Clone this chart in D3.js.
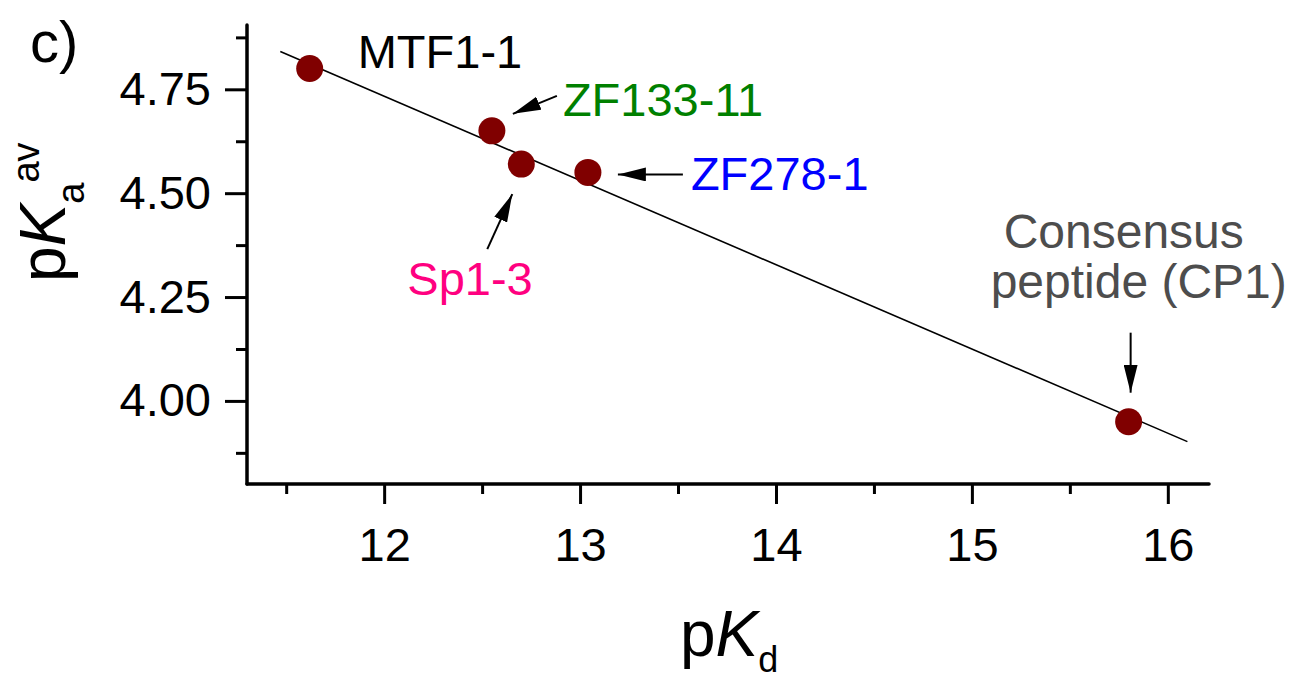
<!DOCTYPE html>
<html>
<head>
<meta charset="utf-8">
<script src="https://cdn.jsdelivr.net/npm/d3@7"></script>
<style>
  body { margin: 0; background: #fff; }
  svg { display: block; }
  text { font-family: "Liberation Sans", Arial, Helvetica, sans-serif; }
</style>
</head>
<body>
<svg id="chart" width="1294" height="682"></svg>
<script>
// Peptides and their dissociation / average acidity constants
const names = ["MTF1-1", "ZF133-11", "Sp1-3", "ZF278-1", "Consensus peptide (CP1)"];
const pKd = [11.62, 12.55, 12.70, 13.04, 15.80];
const pKa = [4.80, 4.65, 4.57, 4.55, 3.95];

// Linear fit endpoints
const fitX = [11.47, 16.10];
const fitY = [4.841, 3.902];

// Axis ticks
const xTicks = [12, 13, 14, 15, 16];
const xMinor = [11.5, 12.5, 13.5, 14.5, 15.5];
const yTicks = [4.00, 4.25, 4.50, 4.75];
const yMinor = [3.875, 4.125, 4.375, 4.625, 4.875];

const svg = d3.select("#chart");
const x = d3.scaleLinear().domain([11.3, 16.2]).range([247, 1207]);
const y = d3.scaleLinear().domain([3.8, 4.9]).range([484, 27]);

const AXW = 3.5;
const LABEL_SIZE = 47;

// ---- axes ----
function styleAxis(g) {
  g.select(".domain").remove();
  g.selectAll("line").attr("stroke", "#000").attr("stroke-width", 3);
  g.selectAll("text").attr("fill", "#000").attr("font-size", 47);
}

const xAxis = svg.append("g").attr("transform", `translate(0,${y.range()[0]})`)
  .call(d3.axisBottom(x).tickValues(xTicks).tickFormat(d3.format("d")).tickSize(20).tickPadding(24));
styleAxis(xAxis);
xAxis.selectAll("text").attr("dy", "0.71em");

const xAxisMinor = svg.append("g").attr("transform", `translate(0,${y.range()[0]})`)
  .call(d3.axisBottom(x).tickValues(xMinor).tickFormat("").tickSize(10));
styleAxis(xAxisMinor);

const yAxis = svg.append("g").attr("transform", `translate(${x.range()[0]},0)`)
  .call(d3.axisLeft(y).tickValues(yTicks).tickFormat(d3.format(".2f")).tickSize(22).tickPadding(14));
styleAxis(yAxis);

const yAxisMinor = svg.append("g").attr("transform", `translate(${x.range()[0]},0)`)
  .call(d3.axisLeft(y).tickValues(yMinor).tickFormat("").tickSize(11));
styleAxis(yAxisMinor);

// axis lines
svg.append("line")
  .attr("x1", x.range()[0]).attr("x2", x.range()[1] + 2)
  .attr("y1", y.range()[0]).attr("y2", y.range()[0])
  .attr("stroke", "#000").attr("stroke-width", AXW).attr("stroke-linecap", "round");
svg.append("line")
  .attr("x1", x.range()[0]).attr("x2", x.range()[0])
  .attr("y1", y.range()[0]).attr("y2", y.range()[1] - 2)
  .attr("stroke", "#000").attr("stroke-width", AXW).attr("stroke-linecap", "round");

// ---- fit line ----
svg.append("line")
  .attr("x1", x(fitX[0])).attr("y1", y(fitY[0]))
  .attr("x2", x(fitX[1])).attr("y2", y(fitY[1]))
  .attr("stroke", "#000").attr("stroke-width", 1.6);

// ---- points ----
const pts = pKd.map((v, i) => ({ name: names[i], x: v, y: pKa[i] }));
svg.append("g").selectAll("circle").data(pts).join("circle")
  .attr("cx", d => x(d.x)).attr("cy", d => y(d.y)).attr("r", 13.5)
  .attr("fill", "#800000");

// ---- annotations (offsets in px relative to each point) ----
const defs = svg.append("defs");
defs.append("marker").attr("id", "ah")
  .attr("viewBox", "0 0 28 14").attr("refX", 28).attr("refY", 7)
  .attr("markerWidth", 28).attr("markerHeight", 14)
  .attr("markerUnits", "userSpaceOnUse").attr("orient", "auto")
  .append("path").attr("d", "M0,0 L28,7 L0,14 Z").attr("fill", "#000");

const notes = [
  { color: "#000000", lines: [{ t: "MTF1-1", dx: 48, dy: -1 }], arrow: null },
  { color: "#008000", lines: [{ t: "ZF133-11", dx: 71, dy: -15 }],
    arrow: { x1: 65, y1: -35, x2: 21, y2: -17 } },
  { color: "#ff0080", lines: [{ t: "Sp1-3", dx: -114, dy: 131 }],
    arrow: { x1: -34, y1: 85, x2: -9, y2: 30 } },
  { color: "#0000ff", lines: [{ t: "ZF278-1", dx: 103, dy: 18 }],
    arrow: { x1: 95, y1: 2, x2: 30, y2: 2 } },
  { color: "#4d4d4d", lines: [{ t: "Consensus", dx: -125, dy: -174 }, { t: "peptide (CP1)", dx: -138, dy: -124 }],
    arrow: { x1: 2, y1: -89, x2: 2, y2: -29 } }
];

pts.forEach((p, i) => {
  const n = notes[i];
  const px = x(p.x), py = y(p.y);
  n.lines.forEach(l => {
    svg.append("text")
      .attr("x", px + l.dx).attr("y", py + l.dy)
      .attr("font-size", i === 4 ? 48 : LABEL_SIZE).attr("fill", n.color)
      .text(l.t);
  });
  if (n.arrow) {
    svg.append("line")
      .attr("x1", px + n.arrow.x1).attr("y1", py + n.arrow.y1)
      .attr("x2", px + n.arrow.x2).attr("y2", py + n.arrow.y2)
      .attr("stroke", "#000").attr("stroke-width", 2)
      .attr("marker-end", "url(#ah)");
  }
});

// ---- axis titles ----
const xt = svg.append("text").attr("x", 680).attr("y", 656).attr("font-size", 64).attr("fill", "#000");
xt.append("tspan").text("p");
xt.append("tspan").attr("font-style", "italic").text("K");
xt.append("tspan").attr("font-size", 36).attr("dy", 16).text("d");

const yt = svg.append("text").attr("transform", "translate(65,282) rotate(-90)")
  .attr("font-size", 64).attr("fill", "#000");
yt.append("tspan").text("p");
yt.append("tspan").attr("font-style", "italic").text("K");
yt.append("tspan").attr("font-size", 38).attr("dy", 19).text("a");
yt.append("tspan").attr("font-size", 38).attr("dy", -45).text("av");

// panel label
svg.append("text").attr("x", 30).attr("y", 62).attr("font-size", 58).attr("fill", "#000").text("c)");
</script>
</body>
</html>
